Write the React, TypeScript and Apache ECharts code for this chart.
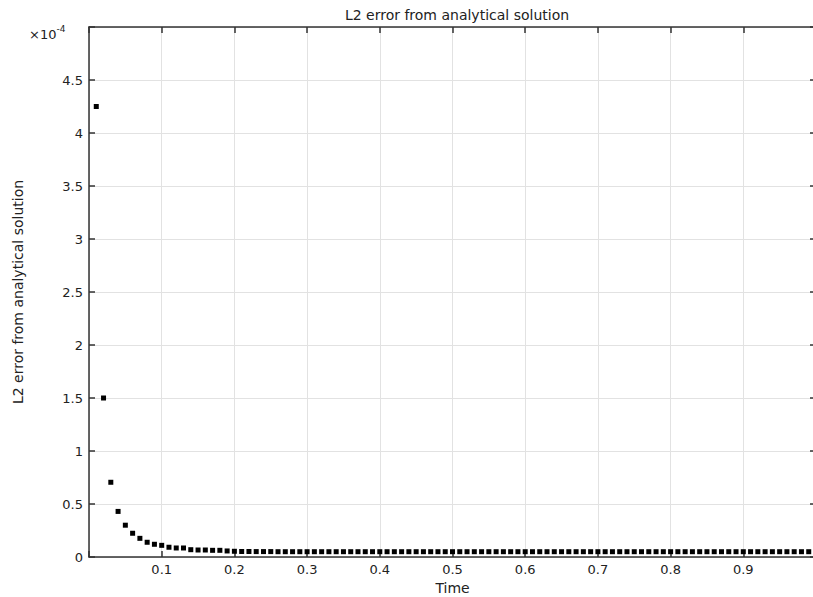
import React, { useEffect, useRef } from "react";
import * as echarts from "echarts";

const TITLE = "L2 error from analytical solution";
const X_NAME = "Time";
const Y_NAME = "L2 error from analytical solution";
const Y_EXP = "-4";

const times: number[] = [
  0.01, 0.02, 0.03, 0.04, 0.05, 0.06, 0.07, 0.08, 0.09, 0.1,
  0.11, 0.12, 0.13, 0.14, 0.15, 0.16, 0.17, 0.18, 0.19, 0.2,
  0.21, 0.22, 0.23, 0.24, 0.25, 0.26, 0.27, 0.28, 0.29, 0.3,
  0.31, 0.32, 0.33, 0.34, 0.35, 0.36, 0.37, 0.38, 0.39, 0.4,
  0.41, 0.42, 0.43, 0.44, 0.45, 0.46, 0.47, 0.48, 0.49, 0.5,
  0.51, 0.52, 0.53, 0.54, 0.55, 0.56, 0.57, 0.58, 0.59, 0.6,
  0.61, 0.62, 0.63, 0.64, 0.65, 0.66, 0.67, 0.68, 0.69, 0.7,
  0.71, 0.72, 0.73, 0.74, 0.75, 0.76, 0.77, 0.78, 0.79, 0.8,
  0.81, 0.82, 0.83, 0.84, 0.85, 0.86, 0.87, 0.88, 0.89, 0.9,
  0.91, 0.92, 0.93, 0.94, 0.95, 0.96, 0.97, 0.98, 0.99,
];

// L2 error in units of 1e-4
const errors: number[] = [
  4.25, 1.5, 0.705, 0.43, 0.3, 0.224, 0.176, 0.139, 0.12, 0.11,
  0.092, 0.085, 0.085, 0.069, 0.066, 0.066, 0.063, 0.063, 0.057, 0.054,
  0.052, 0.052, 0.051, 0.051, 0.051, 0.05, 0.05, 0.05, 0.05, 0.05,
  0.05, 0.05, 0.05, 0.05, 0.05, 0.05, 0.05, 0.05, 0.05, 0.05,
  0.05, 0.05, 0.05, 0.05, 0.05, 0.05, 0.05, 0.05, 0.05, 0.05,
  0.05, 0.05, 0.05, 0.05, 0.05, 0.05, 0.05, 0.05, 0.05, 0.05,
  0.05, 0.05, 0.05, 0.05, 0.05, 0.05, 0.05, 0.05, 0.05, 0.05,
  0.05, 0.05, 0.05, 0.05, 0.05, 0.05, 0.05, 0.05, 0.05, 0.05,
  0.05, 0.05, 0.05, 0.05, 0.05, 0.05, 0.05, 0.05, 0.05, 0.05,
  0.05, 0.05, 0.05, 0.05, 0.05, 0.05, 0.05, 0.05, 0.05,
];

const X_MIN = 0;
const X_MAX = 1;
const X_STEP = 0.1;
const Y_MIN = 0;
const Y_MAX = 5;
const Y_STEP = 0.5;

const FONT = "DejaVu Sans";

export default function App() {
  const ref = useRef<HTMLDivElement>(null);
  useEffect(() => {
    if (!ref.current) return;
    const chart = echarts.init(ref.current, null, { renderer: "svg" });
    const axisLine = { show: true, onZero: false, lineStyle: { color: "#333", width: 1.5 } };
    const tick = { show: true, inside: true, length: 6, lineStyle: { color: "#333", width: 1.5 } };
    const splitLine = { show: true, lineStyle: { color: "#e2e2e2", width: 1 } };
    const xFmt = (v: number) => (Math.abs(v - X_MIN) < 1e-9 || Math.abs(v - X_MAX) < 1e-9 ? "" : String(Math.round(v * 10) / 10));
    const yFmt = (v: number) => (Math.abs(v - Y_MAX) < 1e-9 ? "" : String(Math.round(v * 10) / 10));
    chart.setOption({
      animation: false,
      backgroundColor: "#fff",
      textStyle: { fontFamily: FONT },
      title: {
        text: TITLE,
        left: 452,
        textAlign: "center",
        top: 3,
        textStyle: { fontFamily: FONT, fontSize: 14, fontWeight: "normal", color: "#222" },
      },
      graphic: [
        {
          type: "text",
          left: 29,
          top: 24,
          style: {
            text: "{a|×10}{b|" + Y_EXP + "}",
            rich: {
              a: { fontFamily: FONT, fontSize: 13, fill: "#222", verticalAlign: "bottom" },
              b: { fontFamily: FONT, fontSize: 9, fill: "#222", verticalAlign: "top", padding: [0, 0, 8, 0] },
            },
          },
        },
      ],
      grid: { left: 89, top: 27, width: 727, height: 530, containLabel: false, outerBoundsMode: "none" },
      xAxis: [
        {
          type: "value",
          min: X_MIN,
          max: X_MAX,
          interval: X_STEP,
          position: "bottom",
          name: X_NAME,
          nameLocation: "middle",
          nameGap: 19,
          nameTextStyle: { fontFamily: FONT, fontSize: 14, color: "#222" },
          axisLine,
          axisTick: tick,
          splitLine,
          axisLabel: { formatter: xFmt, fontFamily: FONT, fontSize: 13, color: "#222", margin: 6 },
        },
        {
          type: "value",
          min: X_MIN,
          max: X_MAX,
          interval: X_STEP,
          position: "top",
          axisLine,
          axisTick: tick,
          splitLine: { show: false },
          axisLabel: { show: false },
        },
      ],
      yAxis: [
        {
          type: "value",
          min: Y_MIN,
          max: Y_MAX,
          interval: Y_STEP,
          position: "left",
          name: Y_NAME,
          nameLocation: "middle",
          nameGap: 64,
          nameTextStyle: { fontFamily: FONT, fontSize: 14, color: "#222" },
          axisLine,
          axisTick: tick,
          splitLine,
          axisLabel: { formatter: yFmt, fontFamily: FONT, fontSize: 13, color: "#222", margin: 6 },
        },
        {
          type: "value",
          min: Y_MIN,
          max: Y_MAX,
          interval: Y_STEP,
          position: "right",
          axisLine,
          axisTick: tick,
          splitLine: { show: false },
          axisLabel: { show: false },
        },
      ],
      series: [
        {
          type: "scatter",
          xAxisIndex: 0,
          yAxisIndex: 0,
          symbol: "rect",
          symbolSize: 5,
          itemStyle: { color: "#000", opacity: 1 },
          data: times.map((t, i) => [t, errors[i]]),
        },
      ],
    });
    return () => chart.dispose();
  }, []);
  return (
    <div
      ref={ref}
      style={{ position: "fixed", left: 0, top: 0, width: 813, height: 597, overflow: "hidden" }}
    />
  );
}
